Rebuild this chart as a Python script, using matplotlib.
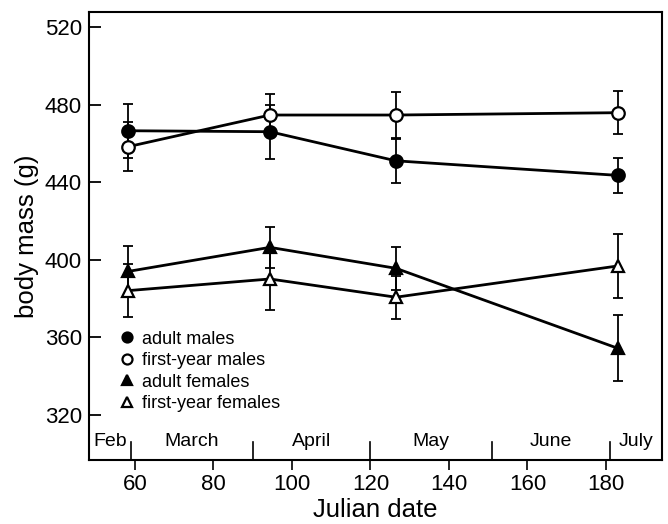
import matplotlib
matplotlib.use("Agg")
import matplotlib.pyplot as plt

plt.rcParams['font.family'] = ['Liberation Sans', 'DejaVu Sans']

# Data
julian_days = [58.3, 94.4, 126.5, 183.0]
adult_males = [466.5, 466.0, 451.0, 443.5]
adult_males_err = [14.0, 14.0, 11.5, 9.0]
firstyear_males = [458.3, 474.6, 474.6, 475.8]
firstyear_males_err = [12.5, 11.0, 12.0, 11.0]
adult_females = [394.0, 406.4, 395.6, 354.4]
adult_females_err = [13.0, 10.4, 11.0, 17.0]
firstyear_females = [384.1, 390.1, 380.7, 396.8]
firstyear_females_err = [13.5, 16.0, 11.0, 16.5]

series_labels = ["adult males", "first-year males", "adult females", "first-year females"]
x_ticks = [60, 80, 100, 120, 140, 160, 180]
y_ticks = [320, 360, 400, 440, 480, 520]
month_names = ["Feb", "March", "April", "May", "June", "July"]
month_bounds = [59, 90, 120, 151, 181]
month_centers = [53.6, 74.5, 105.0, 135.5, 166.0, 187.6]

fig = plt.figure(figsize=(6.68, 5.24), dpi=100)
ax = fig.add_axes([89/668, 1 - 460/524, 573/668, 448/524])

series = [
    (adult_males, adult_males_err, 'o', 'black'),
    (firstyear_males, firstyear_males_err, 'o', 'white'),
    (adult_females, adult_females_err, '^', 'black'),
    (firstyear_females, firstyear_females_err, '^', 'white'),
]

handles = []
for (vals, errs, mk, fc), lab in zip(series, series_labels):
    ax.errorbar(julian_days, vals, yerr=errs, fmt='none', ecolor='black',
                elinewidth=1.3, capsize=3.3, capthick=1.3, zorder=2)
    ax.plot(julian_days, vals, '-', color='black', lw=2.0, zorder=3)
    h, = ax.plot(julian_days, vals, linestyle='none', marker=mk, ms=9,
                 mfc=fc, mec='black', mew=1.6, zorder=4, label=lab)
    handles.append(h)

ax.set_xlim(48.3, 194.3)
ax.set_ylim(296.8, 527.7)

ax.set_xticks(x_ticks)
ax.set_yticks(y_ticks)
ax.tick_params(axis='y', direction='in', length=8.5, width=1.3, pad=5, labelsize=16)
ax.tick_params(axis='x', direction='out', length=7, width=1.2, pad=3, labelsize=16)

for sp in ax.spines.values():
    sp.set_linewidth(1.5)

# month boundaries and labels inside the axes
trans = ax.get_xaxis_transform()
for b in month_bounds:
    ax.plot([b, b], [0, 0.04], color='black', lw=1.2, transform=trans, clip_on=False)
for c, name in zip(month_centers, month_names):
    ax.text(c, 0.042, name, transform=trans, ha='center', va='center', fontsize=14)

ax.set_xlabel("Julian date", fontsize=18.5, labelpad=2)
ax.set_ylabel("body mass (g)", fontsize=18.5, labelpad=4)

leg = ax.legend(handles=handles, loc='upper left', bbox_to_anchor=(0.045, 0.305),
                frameon=False, fontsize=13, handlelength=0.6, handletextpad=0.5,
                labelspacing=0.25, borderaxespad=0, markerscale=0.8)

fig.savefig("out.png", dpi=100)
